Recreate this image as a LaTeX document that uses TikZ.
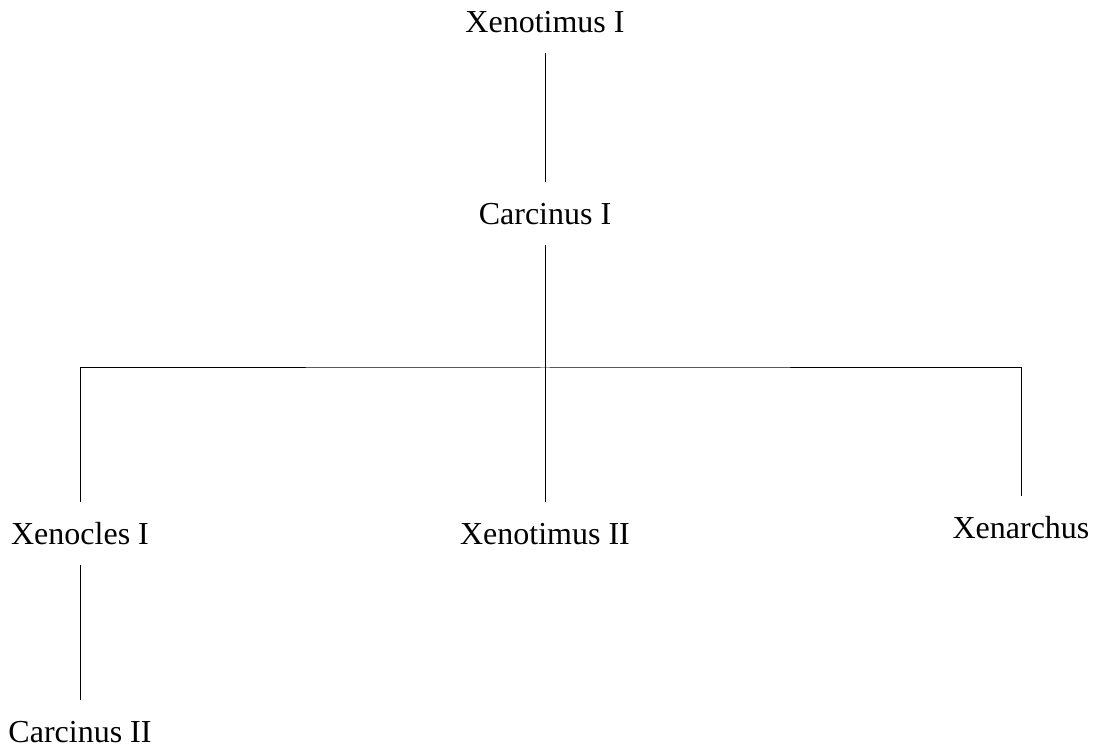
\documentclass[tikz,border=0pt]{standalone}
\usepackage{fontspec}
\setmainfont{Liberation Serif}
\usepackage{tikz}
\usetikzlibrary{positioning, calc}

\begin{document}
\begin{tikzpicture}[
        x=1pt, y=1pt,
        p/.style={inner xsep=0pt, inner ysep=20pt, text height=22pt, text depth=0pt, anchor=base, font=\fontsize{32pt}{38pt}\selectfont},
        line width=1pt
    ]
        \useasboundingbox (0,0) rectangle (1099,753);

        \node[p] (xen1) at (545,720) {Xenotimus I};
        \node[p] (car1) at (545,528) {Carcinus I};

        \node[p] (xcl)  at (80,209)   {Xenocles I};
        \node[p] (xen2) at (545,209)  {Xenotimus II};
        \node[p] (xnr)  at (1021,215) {Xenarchus};

        \node[p] (car2) at (80,11) {Carcinus II};

        \coordinate (bar) at (545,385);

        \draw (xen1) -- (car1);
        \draw (car1) -- (xen2);
        \draw (xcl.north) |- (bar) -| (xnr.north);
        \draw (xcl) -- (car2);
    \end{tikzpicture}
\end{document}
